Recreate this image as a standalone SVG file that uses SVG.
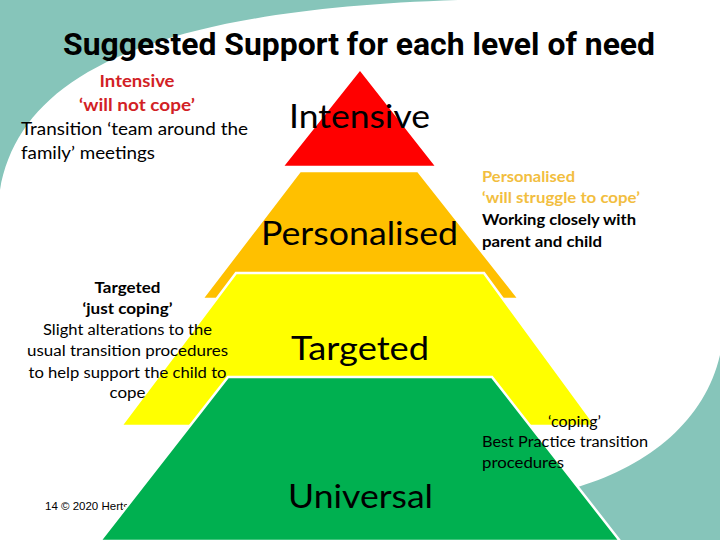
<svg xmlns="http://www.w3.org/2000/svg" width="720" height="540" viewBox="0 0 720 540">
  <style>
    .teal { fill: #86C5BA; }
    .lvl { stroke: #FFFFFF; stroke-width: 2.5; stroke-linejoin: miter; }
    .title { font-family: Roboto, "Liberation Sans", sans-serif; font-weight: bold; font-size: 32px; fill: #000000; }
    .big { font-family: Lato, "Liberation Sans", sans-serif; font-size: 33px; fill: #000000; }
    .body { font-family: Lato, "Liberation Sans", sans-serif; font-size: 17px; fill: #000000; }
    .bodyS { font-family: Lato, "Liberation Sans", sans-serif; font-size: 15.5px; fill: #000000; }
    .b { font-weight: bold; }
    .red { fill: #D21F26; }
    .amber { fill: #F2BE3F; }
    .foot { font-family: "Liberation Sans Narrow", "Liberation Sans", sans-serif; font-size: 11.5px; fill: #000000; }
  </style>
  <rect width="720" height="540" fill="#FFFFFF"/>
  <g id="background">
    <path class="teal" d="M0,0 L458,0 C150,10 20,75 0,190 Z"/>
    <path class="teal" d="M720,355 C705,420 650,465 578,487 L600,540 L720,540 Z"/>
  </g>
  <g id="title">
    <text class="title" x="359" y="55" text-anchor="middle" textLength="592" lengthAdjust="spacingAndGlyphs">Suggested Support for each level of need</text>
  </g>
  <g id="footer">
    <text class="foot" x="45" y="510">14 © 2020 Herts</text>
  </g>
  <g id="level-personalised">
    <polygon class="lvl" fill="#FFC000" points="300,171 418,171 519,299 202,299"/>
    <text class="big" x="261" y="245" textLength="197" lengthAdjust="spacingAndGlyphs">Personalised</text>
  </g>
  <g id="level-intensive">
    <polygon class="lvl" fill="#FF0000" points="360,69 437,167 282,167"/>
    <text class="big" x="289" y="128" textLength="141" lengthAdjust="spacingAndGlyphs">Intensive</text>
  </g>
  <g id="level-targeted">
    <polygon class="lvl" fill="#FFFF00" points="236,273 484,273 596,426 121,426"/>
    <text class="big" x="291" y="360" textLength="138" lengthAdjust="spacingAndGlyphs">Targeted</text>
  </g>
  <g id="level-universal">
    <polygon class="lvl" fill="#00B050" points="228,377 492,377 620,541 100,541"/>
    <text class="big" x="288" y="508" textLength="145" lengthAdjust="spacingAndGlyphs">Universal</text>
  </g>
  <g id="note-intensive">
    <text class="body b red" x="137" y="87" text-anchor="middle" textLength="75" lengthAdjust="spacingAndGlyphs">Intensive</text>
    <text class="body b red" x="137" y="111" text-anchor="middle" textLength="116" lengthAdjust="spacingAndGlyphs">‘will not cope’</text>
    <text class="body" x="21" y="135" textLength="227" lengthAdjust="spacingAndGlyphs">Transition ‘team around the</text>
    <text class="body" x="21" y="159" textLength="134" lengthAdjust="spacingAndGlyphs">family’ meetings</text>
  </g>
  <g id="note-personalised">
    <text class="bodyS b amber" x="482" y="182" textLength="93" lengthAdjust="spacingAndGlyphs">Personalised</text>
    <text class="bodyS b amber" x="482" y="203" textLength="158" lengthAdjust="spacingAndGlyphs">‘will struggle to cope’</text>
    <text class="bodyS b" x="482" y="225" textLength="154" lengthAdjust="spacingAndGlyphs">Working closely with</text>
    <text class="bodyS b" x="482" y="247" textLength="120" lengthAdjust="spacingAndGlyphs">parent and child</text>
  </g>
  <g id="note-targeted">
    <text class="bodyS b" x="127.5" y="293" text-anchor="middle" textLength="66" lengthAdjust="spacingAndGlyphs">Targeted</text>
    <text class="bodyS b" x="127.5" y="314" text-anchor="middle" textLength="90" lengthAdjust="spacingAndGlyphs">‘just coping’</text>
    <text class="bodyS" x="127.5" y="335" text-anchor="middle" textLength="169" lengthAdjust="spacingAndGlyphs">Slight alterations to the</text>
    <text class="bodyS" x="127.5" y="356" text-anchor="middle" textLength="201" lengthAdjust="spacingAndGlyphs">usual transition procedures</text>
    <text class="bodyS" x="127.5" y="377.5" text-anchor="middle" textLength="198" lengthAdjust="spacingAndGlyphs">to help support the child to</text>
    <text class="bodyS" x="127.5" y="398" text-anchor="middle" textLength="36" lengthAdjust="spacingAndGlyphs">cope</text>
  </g>
  <g id="note-universal">
    <text class="bodyS" x="548" y="427" textLength="53" lengthAdjust="spacingAndGlyphs">‘coping’</text>
    <text class="bodyS" x="482" y="447" textLength="166" lengthAdjust="spacingAndGlyphs">Best Practice transition</text>
    <text class="bodyS" x="482" y="468" textLength="82" lengthAdjust="spacingAndGlyphs">procedures</text>
  </g>
</svg>
